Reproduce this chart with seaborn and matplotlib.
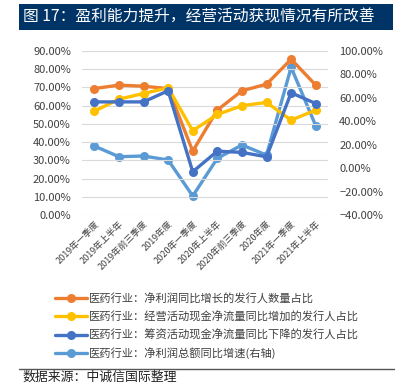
import pandas as pd
import seaborn as sns
import matplotlib.pyplot as plt
from matplotlib.patches import Rectangle
from matplotlib.lines import Line2D
from matplotlib.ticker import PercentFormatter

# Dados
periodos = ['2019年一季度', '2019年上半年', '2019年前三季度', '2019年度', '2020年一季度',
            '2020年上半年', '2020年前三季度', '2020年度', '2021年一季度', '2021年上半年']
lucro_crescente = [69.3, 71.2, 70.6, 69.3, 35.0, 57.5, 68.1, 71.7, 85.4, 71.2]
caixa_operacional = [56.9, 63.5, 66.6, 69.7, 46.2, 55.1, 59.9, 61.7, 52.0, 57.5]
caixa_financiamento = [62.0, 62.0, 62.0, 68.1, 23.7, 35.0, 34.3, 31.9, 67.0, 61.1]
lucro_total_yoy = [18.8, 9.7, 10.3, 6.9, -23.8, 8.3, 19.7, 11.1, 85.9, 36.1]

nomes = ['医药行业：净利润同比增长的发行人数量占比',
         '医药行业：经营活动现金净流量同比增加的发行人占比',
         '医药行业：筹资活动现金净流量同比下降的发行人占比',
         '医药行业：净利润总额同比增速(右轴)']
cores = ['#ED7D31', '#FFC000', '#4472C4', '#5B9BD5']

sns.set_style('white')
plt.rcParams['font.family'] = ['Noto Sans CJK SC', 'DejaVu Sans']

df = pd.DataFrame({'x': range(len(periodos)), 'a': lucro_crescente,
                   'b': caixa_operacional, 'c': caixa_financiamento, 'd': lucro_total_yoy})

fig = plt.figure(figsize=(4.07, 3.85), dpi=100)
ax = fig.add_axes([0.2015, 0.4416, 0.6045, 0.4264])
ax2 = ax.twinx()

estilo = dict(linewidth=2.4, marker='o', markersize=6.5, markeredgewidth=0)
for col, cor, nome in zip(['a', 'b', 'c'], cores[:3], nomes[:3]):
    sns.lineplot(data=df, x='x', y=col, color=cor, ax=ax, label=nome, legend=False, **estilo)
sns.lineplot(data=df, x='x', y='d', color=cores[3], ax=ax2, label=nomes[3], legend=False, **estilo)

ax.set_zorder(ax2.get_zorder() + 1)
ax.patch.set_visible(False)

ax.set_ylim(0, 90)
ax.set_yticks(range(0, 91, 10))
ax.yaxis.set_major_formatter(PercentFormatter(decimals=2))
ax2.set_ylim(-40, 100)
ax2.set_yticks(range(-40, 101, 20))
ax2.yaxis.set_major_formatter(PercentFormatter(decimals=2))
ax.set_xlim(-0.5, 9.5)
ax.set_xticks(range(len(periodos)))
ax.set_xticklabels(periodos, rotation=45, ha='right', rotation_mode='anchor', fontsize=6.5, color='#404040')
ax.set_xlabel('')
ax.set_ylabel('')
ax2.set_ylabel('')
ax.tick_params(axis='y', labelsize=8, length=0, pad=8, labelcolor='#404040')
ax2.tick_params(axis='y', labelsize=8, length=0, pad=8, labelcolor='#404040')
ax.tick_params(axis='x', length=0, pad=3)
ax.grid(axis='y', color='#D9D9D9', linewidth=0.8)
ax.set_axisbelow(True)
for a in (ax, ax2):
    for s in a.spines.values():
        s.set_visible(False)

# Legenda
handles = ax.get_lines()[:3] + ax2.get_lines()[:1]
fig.legend(handles, nomes, loc='upper left', bbox_to_anchor=(0.125, 0.25), frameon=False,
           fontsize=8.1, handlelength=2.8, handletextpad=0.2, labelspacing=0.62,
           labelcolor='#404040', borderaxespad=0)

# Faixa do título
fig.patches.append(Rectangle((0.047, 1 - 30 / 385), 0.918, 26 / 385, transform=fig.transFigure,
                             facecolor='#003366', edgecolor='none'))
fig.text(0.056, 1 - 17 / 385, '图 17：盈利能力提升，经营活动获现情况有所改善', color='white',
         fontsize=11.3, va='center', ha='left')

# Linha e fonte
fig.lines.append(Line2D([0.047, 0.968], [1 - 369 / 385] * 2, transform=fig.transFigure,
                        color='#555555', linewidth=1))
fig.text(0.055, 1 - 371 / 385, '数据来源：中诚信国际整理', fontsize=9.3, style='italic',
         va='top', ha='left', color='#222222')

fig.savefig('out.png', dpi=100)
